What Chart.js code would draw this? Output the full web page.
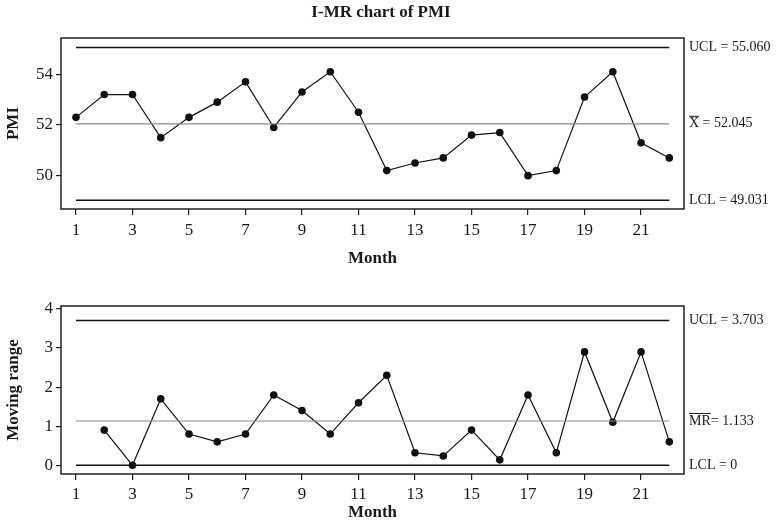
<!DOCTYPE html>
<html>
<head>
<meta charset="utf-8">
<script src="https://cdn.jsdelivr.net/npm/chart.js@4.4.1/dist/chart.umd.min.js"></script>
<style>
  body { margin: 0; background: #fff; }
  canvas { display: block; }
</style>
</head>
<body>
<canvas id="iChart" width="782" height="270"></canvas>
<canvas id="mrChart" width="782" height="254"></canvas>
<script>
// data
const months = [1, 2, 3, 4, 5, 6, 7, 8, 9, 10, 11, 12, 13, 14, 15, 16, 17, 18, 19, 20, 21, 22];
const pmi = [52.3, 53.2, 53.2, 51.5, 52.3, 52.9, 53.7, 51.9, 53.3, 54.1, 52.5, 50.2, 50.5, 50.7, 51.6, 51.7, 50.0, 50.2, 53.1, 54.1, 51.3, 50.7];
const movingRange = [null, 0.9, 0, 1.7, 0.8, 0.6, 0.8, 1.8, 1.4, 0.8, 1.6, 2.3, 0.32, 0.24, 0.9, 0.14, 1.8, 0.32, 2.9, 1.1, 2.9, 0.6];

const monthTicks = [1, 3, 5, 7, 9, 11, 13, 15, 17, 19, 21];
const pmiTicks = [50, 52, 54];
const mrTicks = [0, 1, 2, 3, 4];

const iLimits = [55.060, 52.045, 49.031];
const iLabels = ['UCL = 55.060', 'X = 52.045', 'LCL = 49.031'];
const iBars = [0, 1, 0];
const mrLimits = [3.703, 1.133, 0];
const mrLabels = ['UCL = 3.703', 'MR= 1.133', 'LCL = 0'];
const mrBars = [0, 2, 0];

const ink = '#1a1a1a';
const serif = '"Liberation Serif", "DejaVu Serif", serif';

const boxPlugin = {
  id: 'sideLabels',
  afterDraw(chart, args, opts) {
    const ctx = chart.ctx, a = chart.chartArea;
    ctx.save();
    ctx.strokeStyle = '#222';
    ctx.lineWidth = 1.5;
    ctx.strokeRect(a.left, a.top, a.right - a.left, a.bottom - a.top);
    ctx.fillStyle = ink;
    ctx.font = '14px ' + serif;
    ctx.textBaseline = 'middle';
    opts.values.forEach((v, i) => {
      const y = chart.scales.y.getPixelForValue(v);
      const x = a.right + 5;
      ctx.fillText(opts.labels[i], x, y);
      if (opts.bars[i]) {
        const w = ctx.measureText(opts.labels[i].slice(0, opts.bars[i])).width;
        ctx.lineWidth = 1;
        ctx.beginPath();
        ctx.moveTo(x, y - 7.5);
        ctx.lineTo(x + w, y - 7.5);
        ctx.stroke();
      }
    });
    if (opts.title) {
      ctx.font = 'bold 17px ' + serif;
      ctx.textAlign = 'center';
      ctx.fillText(opts.title, 381, 13);
    }
    ctx.restore();
  }
};

function limitLine(v, color, w) {
  return {
    data: [{x: months[0], y: v}, {x: months[months.length - 1], y: v}],
    borderColor: color, borderWidth: w, pointRadius: 0
  };
}

function makeChart(id, values, limits, labels, bars, yTicks, yMin, yMax, yTitle, opt) {
  const pts = months.map((m, i) => ({x: m, y: values[i]}));
  return new Chart(document.getElementById(id), {
    type: 'line',
    data: {
      datasets: [
        limitLine(limits[0], '#111', 1.5),
        limitLine(limits[1], '#8c8c8c', 1.2),
        limitLine(limits[2], '#111', 1.5),
        {
          data: pts,
          borderColor: '#111',
          borderWidth: 1.2,
          pointRadius: 3.8,
          pointBackgroundColor: '#111',
          pointBorderWidth: 0,
          tension: 0
        }
      ]
    },
    options: {
      responsive: false,
      animation: false,
      layout: {padding: {left: 0, right: 98, top: opt.top, bottom: 0}},
      plugins: {
        legend: {display: false},
        tooltip: {enabled: false},
        sideLabels: {values: limits, labels: labels, bars: bars, title: opt.title}
      },
      scales: {
        x: {
          type: 'linear',
          min: 0.47, max: 22.52,
          afterBuildTicks: s => { s.ticks = monthTicks.map(v => ({value: v})); },
          afterFit: s => { s.height = opt.xh; },
          grid: {drawOnChartArea: false, drawTicks: true, tickLength: 6, color: '#222', lineWidth: 1.2},
          border: {display: false},
          ticks: {color: ink, font: {family: serif, size: 17}, padding: opt.tickPad, maxRotation: 0, autoSkip: false},
          title: {display: true, text: 'Month', color: ink, font: {family: serif, size: 17, weight: 'bold', lineHeight: 1}, padding: {top: 0, bottom: 2.5}}
        },
        y: {
          min: yMin, max: yMax,
          afterBuildTicks: s => { s.ticks = yTicks.map(v => ({value: v})); },
          afterFit: s => { s.width = 61; },
          grid: {drawOnChartArea: false, drawTicks: true, tickLength: 5, color: '#222', lineWidth: 1.2},
          border: {display: false},
          ticks: {color: ink, font: {family: serif, size: 17}, padding: 3},
          title: {display: true, text: yTitle, color: ink, font: {family: serif, size: 17, weight: 'bold', lineHeight: 1}, padding: {top: 5.5, bottom: 0}}
        }
      }
    },
    plugins: [boxPlugin]
  });
}

makeChart('iChart', pmi, iLimits, iLabels, iBars, pmiTicks, 48.685, 55.43, 'PMI', {top: 38, xh: 61, tickPad: 5, title: 'I-MR chart of PMI'});
makeChart('mrChart', movingRange, mrLimits, mrLabels, mrBars, mrTicks, -0.222, 4.074, 'Moving range', {top: 36, xh: 50, tickPad: 4, title: null});
</script>
</body>
</html>
